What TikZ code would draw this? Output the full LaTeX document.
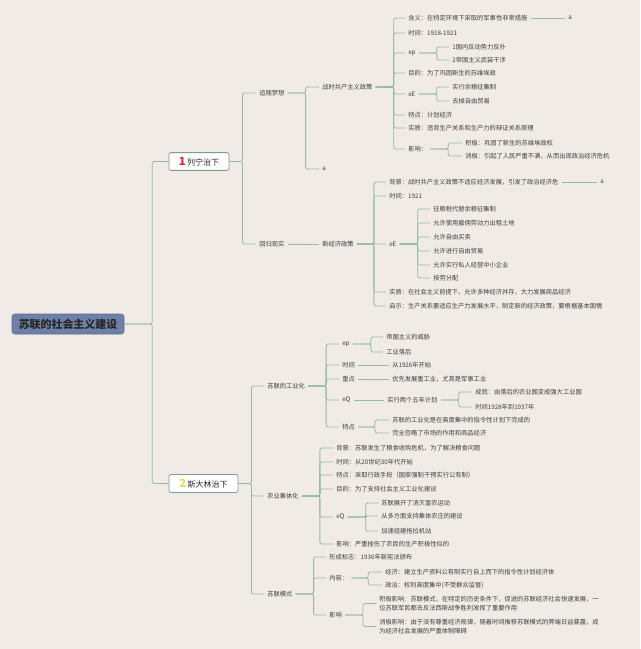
\documentclass[tikz,border=0pt]{standalone}
\usepackage{fontspec}
\newfontfamily\cjk{Noto Sans CJK SC}
\usepackage{xcolor}
\usepackage{tikz}

\definecolor{bgc}{RGB}{240,235,230}
\definecolor{linec}{RGB}{150,186,170}
\definecolor{txtc}{RGB}{62,62,62}
\definecolor{rootc}{RGB}{110,128,168}
\definecolor{onec}{RGB}{222,38,58}
\definecolor{twoc}{RGB}{234,222,84}

\begin{document}
\begin{tikzpicture}[
  x=0.75pt, y=-0.75pt,
  leaf/.style={anchor=west, inner xsep=2.25pt, inner ysep=1pt, font=\cjk\fontsize{4.7}{6.8}\selectfont, text=txtc},
  twoline/.style={leaf, align=left},
  rootbox/.style={rectangle, rounded corners=2pt, fill=rootc, draw=rootc!85!black, minimum width=84pt, minimum height=15pt, font=\cjk\fontsize{8.2}{9}\selectfont\bfseries, text=black!85},
  branch/.style={rectangle, rounded corners=1.5pt, fill=white, draw=linec!85!black, line width=0.6pt, minimum height=12.75pt, inner xsep=2pt, font=\cjk\fontsize{6}{7}\selectfont, text=black!85},
  link/.style={draw=linec, line width=0.6pt, rounded corners=1.5pt}
]

\fill[bgc] (0,0) rectangle (640,649);

%  : -- root and the two periods  : --
\node[rootbox] (root) at (68,324) {苏联的社会主义建设};
\node[branch, minimum width=45pt] (lenin) at (199,161.5) {\textcolor{onec}{\bfseries\fontsize{8.5}{9}\selectfont 1}\,列宁治下};
\node[branch, minimum width=51.75pt] (stalin) at (203.5,483.5) {\textcolor{twoc}{\bfseries\fontsize{8.5}{9}\selectfont 2}\,斯大林治下};
\foreach \b in {lenin, stalin} \draw[link] (root.east) -- ++(28,0) |- (\b.west);

%  : -- Lenin  : --
\node[leaf] (dream) at (256,93) {追随梦想};
\node[leaf] (real) at (256,244) {回归现实};
\foreach \c in {dream, real} \draw[link] (lenin.east) -- ++(13,0) |- (\c.west);

\node[leaf] (war) at (319,87) {战时共产主义政策};
\node[leaf] (a0) at (319,169) {a};
\foreach \c in {war, a0} \draw[link] (dream.east) -- ++(18,0) |- (\c.west);

\foreach \n/\y/\t in {1/18/{含义：在特定环境下采取的军事性非常措施}, 2/33/{时间：1918-1921}, 3/53/{ep}, 4/73/{目的：为了巩固新生的苏维埃政}, 5/94/{eE}, 6/115/{特点：计划经济}, 7/128/{实质：违背生产关系和生产力的辩证关系原理}, 8/149/{影响：}} {
  \node[leaf] (w\n) at (405,\y) {\t};
  \draw[link] (war.east) -- ++(18,0) |- (w\n.west);
}
\node[leaf] (a1) at (565,18) {a};
\draw[link] (w1.east) -- (a1.west);

\foreach \n/\y/\t in {1/47/{1国内反动势力反扑}, 2/60/{2帝国主义武装干涉}} {
  \node[leaf] (ep\n) at (449,\y) {\t};
  \draw[link] (w3.east) -- ++(18,0) |- (ep\n.west);
}
\foreach \n/\y/\t in {1/87/{实行余粮征集制}, 2/101/{去掉自由贸易}} {
  \node[leaf] (ee\n) at (449,\y) {\t};
  \draw[link] (w5.east) -- ++(18,0) |- (ee\n.west);
}
\foreach \n/\y/\t in {1/143/{积极：巩固了新生的苏维埃政权}, 2/156/{消极：引起了人民严重不满，从而出现政治经济危机}} {
  \node[leaf] (yx\n) at (462,\y) {\t};
  \draw[link] (w8.east) -- ++(18,0) |- (yx\n.west);
}

% new economic policy
\node[leaf] (nep) at (319,244) {新经济政策};
\draw[link] (real.east) -- (nep.west);
\foreach \n/\y/\t in {1/182/{背景：战时共产主义政策不适应经济发展，引发了政治经济危}, 2/196/{时间：1921}, 3/244/{eE}, 4/292/{实质：在社会主义前提下，允许多种经济并存，大力发展商品经济}, 5/306/{启示：生产关系要适应生产力发展水平，制定新的经济政策，要根据基本国情}} {
  \node[leaf] (n\n) at (386,\y) {\t};
  \draw[link] (nep.east) -- ++(17,0) |- (n\n.west);
}
\node[leaf] (a2) at (597,182) {a};
\draw[link] (n1.east) -- (a2.west);
\foreach \n/\y/\t in {1/209/{征粮税代替余粮征集制}, 2/223/{允许使用雇佣劳动力出租土地}, 3/237/{允许自由买卖}, 4/251/{允许进行自由贸易}, 5/265/{允许实行私人经营中小企业}, 6/278/{按劳分配}} {
  \node[leaf] (nc\n) at (430,\y) {\t};
  \draw[link] (n3.east) -- ++(18,0) |- (nc\n.west);
}

%  : -- Stalin  : --
\node[leaf] (ind) at (264,386) {苏联的工业化};
\node[leaf] (agr) at (264,496) {农业集体化};
\node[leaf] (mod) at (264,594) {苏联模式};
\foreach \c in {ind, agr, mod} \draw[link] (stalin.east) -- ++(13,0) |- (\c.west);

% industrialisation
\foreach \n/\y/\t in {1/344/{ep}, 2/365/{时间}, 3/379/{重点}, 4/400/{eQ}, 5/427/{特点}} {
  \node[leaf] (i\n) at (339,\y) {\t};
  \draw[link] (ind.east) -- ++(18,0) |- (i\n.west);
}
\foreach \n/\y/\t in {1/337/{帝国主义的威胁}, 2/352/{工业落后}} {
  \node[leaf] (ie\n) at (383,\y) {\t};
  \draw[link] (i1.east) -- ++(18,0) |- (ie\n.west);
}
\node[leaf] (start) at (389,365) {从1926年开始};
\draw[link] (i2.east) -- (start.west);
\node[leaf] (heavy) at (389,379) {优先发展重工业，尤其是军事工业};
\draw[link] (i3.east) -- (heavy.west);
\node[leaf] (plan) at (384,400) {实行两个五年计划};
\draw[link] (i4.east) -- (plan.west);
\foreach \n/\y/\t in {1/392/{成就：由落后的农业国变成强大工业国}, 2/407/{时间1928年到1937年}} {
  \node[leaf] (pl\n) at (472,\y) {\t};
  \draw[link] (plan.east) -- ++(18,0) |- (pl\n.west);
}
\foreach \n/\y/\t in {1/420/{苏联的工业化是在高度集中的指令性计划下完成的}, 2/433/{完全忽略了市场的作用和商品经济}} {
  \node[leaf] (it\n) at (389,\y) {\t};
  \draw[link] (i5.east) -- ++(17,0) |- (it\n.west);
}

% collectivisation
\foreach \n/\y/\t in {1/448/{背景：苏联发生了粮食收购危机，为了解决粮食问题}, 2/462/{时间：从20世纪30年代开始}, 3/475/{特点：采取行政手段（国家强制干预实行公有制）}, 4/489/{目的：为了支持社会主义工业化建设}, 5/517/{eQ}, 6/544/{影响：严重挫伤了农民的生产积极性似的}} {
  \node[leaf] (g\n) at (333,\y) {\t};
  \draw[link] (agr.east) -- ++(18,0) |- (g\n.west);
}
\foreach \n/\y/\t in {1/503/{苏联展开了消灭富农运动}, 2/516/{从多方面支持集体农庄的建设}, 3/531/{加速组建拖拉机站}} {
  \node[leaf] (gq\n) at (378,\y) {\t};
  \draw[link] (g5.east) -- ++(18,0) |- (gq\n.west);
}

% Soviet model
\foreach \n/\y/\t in {1/557/{形成标志：1936年新宪法颁布}, 2/578/{内容：}, 3/615/{影响}} {
  \node[leaf] (m\n) at (326,\y) {\t};
  \draw[link] (mod.east) -- ++(18,0) |- (m\n.west);
}
\foreach \n/\y/\t in {1/572/{经济：建立生产资料公有制实行自上而下的指令性计划经济体}, 2/585/{政治：权利高度集中(不受群众监督)}} {
  \node[leaf] (mc\n) at (382,\y) {\t};
  \draw[link] (m2.east) -- ++(17,0) |- (mc\n.west);
}
\node[twoline] (pos) at (376,603.5) {积极影响：苏联模式，在特定的历史条件下，促进的苏联经济社会快速发展，一\\位苏联军民都去反法西斯战争胜利发挥了重要作用};
\node[twoline] (neg) at (376,626.5) {消极影响：由于没有尊重经济规律，随着时间推移苏联模式的弊端日益暴露，成\\为经济社会发展的严重体制障碍};
\foreach \c in {pos, neg} \draw[link] (m3.east) -- ++(18,0) |- (\c.west);

\end{tikzpicture}
\end{document}
